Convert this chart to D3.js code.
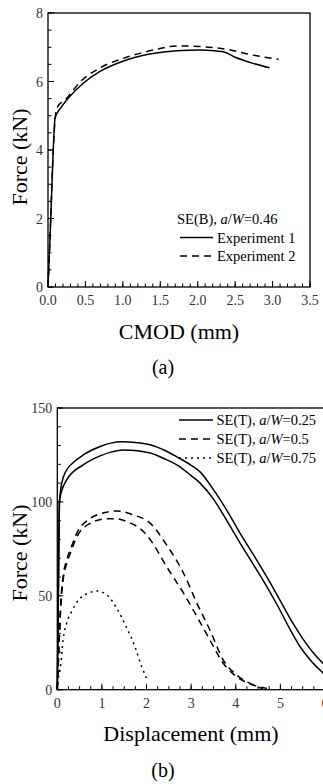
<!DOCTYPE html>
<html><head><meta charset="utf-8">
<script src="https://cdn.jsdelivr.net/npm/d3@7"></script>
<style>
html,body{margin:0;padding:0;background:#fff;}
</style></head>
<body>
<script>
// ---- Data: panel (a) SE(B) CMOD vs Force ----
const exp1CMOD  = [0, 0.03, 0.07, 0.094, 0.18, 0.29, 0.47, 0.69, 1.01, 1.36, 1.72, 2.03, 2.34, 2.50, 2.74, 2.96];
const exp1Force = [0, 1.6, 4.0, 4.93, 5.26, 5.56, 5.95, 6.29, 6.60, 6.80, 6.90, 6.92, 6.87, 6.71, 6.53, 6.40];
const exp2CMOD  = [0, 0.03, 0.07, 0.116, 0.25, 0.43, 0.69, 1.05, 1.41, 1.72, 2.03, 2.39, 2.74, 3.08];
const exp2Force = [0, 1.6, 4.0, 5.22, 5.51, 5.99, 6.39, 6.71, 6.92, 7.04, 7.02, 6.94, 6.77, 6.65];
const aXTicks = [0, 0.5, 1.0, 1.5, 2.0, 2.5, 3.0, 3.5];
const aYTicks = [0, 2, 4, 6, 8];

// ---- Data: panel (b) SE(T) Displacement vs Force ----
const t25aDisp  = [0, 0.03, 0.05, 0.1, 0.21, 0.36, 0.58, 0.96, 1.2, 1.45, 1.8, 2.08, 2.4, 2.68, 3.0, 3.2, 3.5, 3.8, 4.13, 4.47, 4.77, 5.03, 5.29, 5.52, 5.74, 6.0];
const t25aForce = [0, 70, 100, 110, 117, 121, 125, 129.5, 131.3, 132, 131.5, 130.4, 127.5, 124, 119.5, 116, 106.5, 95.5, 82, 69, 57, 46, 35, 26.5, 19.5, 13];
const t25bDisp  = [0, 0.03, 0.045, 0.1, 0.21, 0.58, 0.96, 1.2, 1.48, 1.8, 2.08, 2.4, 2.68, 3.0, 3.2, 3.5, 3.8, 4.01, 4.32, 4.62, 4.92, 5.22, 5.44, 5.67, 6.0];
const t25bForce = [0, 60, 100, 106, 111.7, 119.7, 124.5, 126.5, 127.7, 127.3, 126, 123, 119.7, 114, 110, 101.5, 90, 81.5, 69.5, 58, 45.5, 32, 23, 15.8, 8];
const t50aDisp  = [0, 0.04, 0.08, 0.14, 0.21, 0.33, 0.43, 0.73, 1.1, 1.33, 1.7, 2.08, 2.45, 2.83, 3.13, 3.42, 3.72, 4.02, 4.32, 4.6];
const t50aForce = [0, 25, 47, 62, 69, 77, 83, 91, 94.5, 95.2, 93.1, 88.7, 77.1, 62, 46, 31.8, 15.8, 7.8, 3.4, 0.5];
const t50bDisp  = [0, 0.04, 0.08, 0.14, 0.21, 0.33, 0.43, 0.73, 1.1, 1.3, 1.56, 1.93, 2.08, 2.45, 2.83, 3.13, 3.42, 3.72, 4.02, 4.39, 4.7];
const t50bForce = [0, 24, 45, 60, 67, 75, 81, 88.5, 91, 91, 89.5, 84.2, 80, 65.5, 51.4, 38.9, 26.5, 14.1, 6.9, 2.5, 0.7];
const t75Disp   = [0, 0.02, 0.08, 0.13, 0.21, 0.32, 0.51, 0.73, 0.88, 1.11, 1.33, 1.56, 1.74, 1.89, 2.0];
const t75Force  = [0, 5.2, 14, 26.5, 35.4, 41.6, 48.7, 51.7, 52.6, 50.5, 43.4, 32.7, 22.9, 12.3, 6.1];
const bXTicks = [0, 1, 2, 3, 4, 5, 6];
const bYTicks = [0, 50, 100, 150];

const FONT = "Liberation Serif";
const W = 323, H = 784;
const svg = d3.select("body").append("svg").attr("width", W).attr("height", H)
  .style("display", "block").attr("font-family", FONT);
const zip = (xs, ys) => xs.map((x, i) => [x, ys[i]]);
const txt = (sel) => sel.append("text").attr("font-family", FONT).style("font-family", "'Liberation Serif'");

function panel(o) {
  const x = d3.scaleLinear().domain(o.xDom).range([o.left, o.right]);
  const y = d3.scaleLinear().domain(o.yDom).range([o.bottom, o.top]);
  const g = svg.append("g");
  const xMinor = d3.range(o.xDom[0], o.xDom[1] + 1e-9, o.xMinor);
  const yMinor = d3.range(o.yDom[0], o.yDom[1] + 1e-9, o.yMinor);
  g.selectAll(".xm").data(xMinor).join("line")
    .attr("x1", d => x(d)).attr("x2", d => x(d))
    .attr("y1", o.bottom).attr("y2", o.bottom - 3.5)
    .attr("stroke", "#000").attr("stroke-width", 1);
  g.selectAll(".ym").data(yMinor).join("line")
    .attr("x1", o.left).attr("x2", o.left + 3.5)
    .attr("y1", d => y(d)).attr("y2", d => y(d))
    .attr("stroke", "#000").attr("stroke-width", 1);
  g.selectAll(".xM").data(o.xTicks).join("line")
    .attr("x1", d => x(d)).attr("x2", d => x(d))
    .attr("y1", o.bottom).attr("y2", o.bottom - 6)
    .attr("stroke", "#000").attr("stroke-width", 1);
  g.selectAll(".yM").data(o.yTicks).join("line")
    .attr("x1", o.left).attr("x2", o.left + 6)
    .attr("y1", d => y(d)).attr("y2", d => y(d))
    .attr("stroke", "#000").attr("stroke-width", 1);
  g.append("rect").attr("x", o.left).attr("y", o.top)
    .attr("width", o.right - o.left).attr("height", o.bottom - o.top)
    .attr("fill", "none").attr("stroke", "#000").attr("stroke-width", 1.3);
  o.xTicks.forEach(d => {
    txt(g).attr("x", x(d)).attr("y", o.bottom + 18)
      .attr("text-anchor", "middle").attr("font-size", 14).attr("fill", "#333")
      .text(o.xFmt(d));
  });
  o.yTicks.forEach(d => {
    txt(g).attr("x", o.left - 5).attr("y", y(d) + 5)
      .attr("text-anchor", "end").attr("font-size", 14).attr("fill", "#333")
      .text(d);
  });
  txt(g).attr("x", o.xTitleX).attr("y", o.xTitleY)
    .attr("text-anchor", "middle").attr("font-size", 22).text(o.xTitle);
  txt(g).attr("transform", `translate(${o.yTitleX},${o.yTitleY}) rotate(-90)`)
    .attr("text-anchor", "middle").attr("font-size", 22).text("Force (kN)");
  const line = d3.line().x(d => x(d[0])).y(d => y(d[1])).curve(d3.curveMonotoneX);
  o.series.forEach(s => {
    g.append("path").datum(zip(s.xs, s.ys)).attr("d", line)
      .attr("fill", "none").attr("stroke", "#000").attr("stroke-width", 1.5)
      .attr("stroke-dasharray", s.dash || null);
  });
  return { x, y, g };
}

// Panel (a)
const pa = panel({
  xDom: [0, 3.5], yDom: [0, 8], left: 48, right: 310, top: 13, bottom: 287,
  xMinor: 0.1, yMinor: 0.5, xTicks: aXTicks, yTicks: aYTicks,
  xFmt: d => d.toFixed(1),
  xTitle: "CMOD (mm)", xTitleX: 179, xTitleY: 339,
  yTitleX: 27, yTitleY: 157,
  series: [
    { xs: exp1CMOD, ys: exp1Force },
    { xs: exp2CMOD, ys: exp2Force, dash: "7,5" }
  ]
});
const la = pa.g.append("g");
const ta = txt(la).attr("x", 177).attr("y", 224).attr("font-size", 14.5);
ta.append("tspan").text("SE(B), ");
ta.append("tspan").attr("font-style", "italic").text("a");
ta.append("tspan").text("/");
ta.append("tspan").attr("font-style", "italic").text("W");
ta.append("tspan").text("=0.46");
[["Experiment 1", null, 237.5], ["Experiment 2", "7,5", 256]].forEach(([t, dash, yy]) => {
  la.append("line").attr("x1", 180).attr("x2", 213).attr("y1", yy).attr("y2", yy)
    .attr("stroke", "#000").attr("stroke-width", 1.5).attr("stroke-dasharray", dash);
  txt(la).attr("x", 217).attr("y", yy + 5).attr("font-size", 14.5).text(t);
});
txt(svg).attr("x", 163).attr("y", 374).attr("text-anchor", "middle")
  .attr("font-size", 20).text("(a)");

// Panel (b)
const pb = panel({
  xDom: [0, 6], yDom: [0, 150], left: 57.3, right: 325, top: 408, bottom: 689.7,
  xMinor: 0.25, yMinor: 10, xTicks: bXTicks, yTicks: bYTicks,
  xFmt: d => d,
  xTitle: "Displacement (mm)", xTitleX: 191, xTitleY: 741,
  yTitleX: 27, yTitleY: 553,
  series: [
    { xs: t25aDisp, ys: t25aForce },
    { xs: t25bDisp, ys: t25bForce },
    { xs: t50aDisp, ys: t50aForce, dash: "7,5" },
    { xs: t50bDisp, ys: t50bForce, dash: "7,5" },
    { xs: t75Disp, ys: t75Force, dash: "2,4" }
  ]
});
const lb = pb.g.append("g");
[["0.25", null, 420], ["0.5", "7,5", 439], ["0.75", "2,4", 458]].forEach(([v, dash, yy]) => {
  lb.append("line").attr("x1", 179).attr("x2", 213).attr("y1", yy).attr("y2", yy)
    .attr("stroke", "#000").attr("stroke-width", 1.5).attr("stroke-dasharray", dash);
  const t = txt(lb).attr("x", 216.5).attr("y", yy + 5).attr("font-size", 14.5);
  t.append("tspan").text("SE(T), ");
  t.append("tspan").attr("font-style", "italic").text("a");
  t.append("tspan").text("/");
  t.append("tspan").attr("font-style", "italic").text("W");
  t.append("tspan").text("=" + v);
});
txt(svg).attr("x", 163).attr("y", 777).attr("text-anchor", "middle")
  .attr("font-size", 20).text("(b)");
</script>
</body></html>
